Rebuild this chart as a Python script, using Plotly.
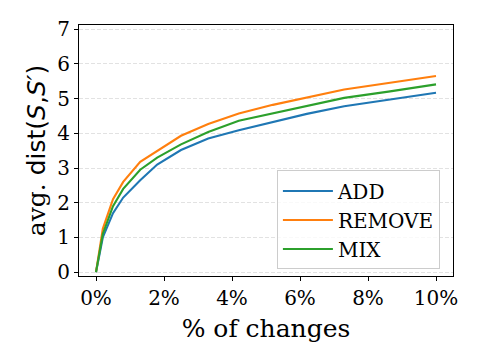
import plotly.graph_objects as go

# % of changes and average distance per strategy
pct_changes = [0, 0.2, 0.5, 0.8, 1.3, 1.8, 2.5, 3.3, 4.2, 5.2, 6.2, 7.3, 8.6, 10]
add_dist = [0, 1.0, 1.7, 2.15, 2.65, 3.1, 3.52, 3.85, 4.09, 4.33, 4.56, 4.78, 4.97, 5.17]
remove_dist = [0, 1.25, 2.1, 2.6, 3.18, 3.5, 3.93, 4.27, 4.57, 4.82, 5.03, 5.26, 5.45, 5.65]
mix_dist = [0, 1.1, 1.9, 2.4, 2.95, 3.3, 3.68, 4.04, 4.36, 4.58, 4.79, 5.02, 5.2, 5.41]

series = [
    ("ADD", add_dist, "#1f77b4"),
    ("REMOVE", remove_dist, "#ff7f0e"),
    ("MIX", mix_dist, "#2ca02c"),
]

x_ticks = [0, 2, 4, 6, 8, 10]
y_ticks = [0, 1, 2, 3, 4, 5, 6, 7]

serif = "DejaVu Serif"

fig = go.Figure()
for name, vals, color in series:
    fig.add_trace(go.Scatter(
        x=pct_changes,
        y=vals,
        mode="lines",
        name=name,
        legendgroup=name,
        line=dict(color=color, width=2.1),
    ))

# the page body adds an 8px offset, so the figure is shrunk to compensate
fig.update_layout(
    width=472,
    height=352,
    margin=dict(l=71, r=27, t=17, b=84),
    paper_bgcolor="white",
    plot_bgcolor="white",
    font=dict(family=serif, size=20, color="black"),
    legend=dict(
        x=0.965, y=0.026, xanchor="right", yanchor="bottom",
        bordercolor="#cccccc", borderwidth=1,
        bgcolor="rgba(255,255,255,0.8)",
        font=dict(family=serif, size=20),
        traceorder="grouped", tracegroupgap=0,
        itemwidth=50,
    ),
    xaxis=dict(
        range=[-0.5, 10.5],
        tickvals=x_ticks,
        ticktext=[f"{t}%" for t in x_ticks],
        showgrid=False, zeroline=False, automargin=False,
        showline=True, linecolor="black", linewidth=1.1, mirror=True,
        ticks="outside", ticklen=4, tickcolor="black",
        tickfont=dict(size=20),
        title=dict(text="% of changes", font=dict(size=25), standoff=10),
    ),
    yaxis=dict(
        range=[-0.11, 7.12],
        tickvals=y_ticks,
        showgrid=True, gridcolor="#e2e2e2", griddash="4px,2px", gridwidth=1,
        zeroline=False, automargin=False,
        showline=True, linecolor="black", linewidth=1.1, mirror=True,
        ticks="outside", ticklen=4, tickcolor="black",
        tickfont=dict(size=20),
        title=dict(
            text="avg. <span style=\"font-family:'DejaVu Sans'\">dist(<i>S</i>,<i>S′</i>)</span>",
            font=dict(size=25), standoff=4,
        ),
    ),
)

fig.write_html("out.html")
